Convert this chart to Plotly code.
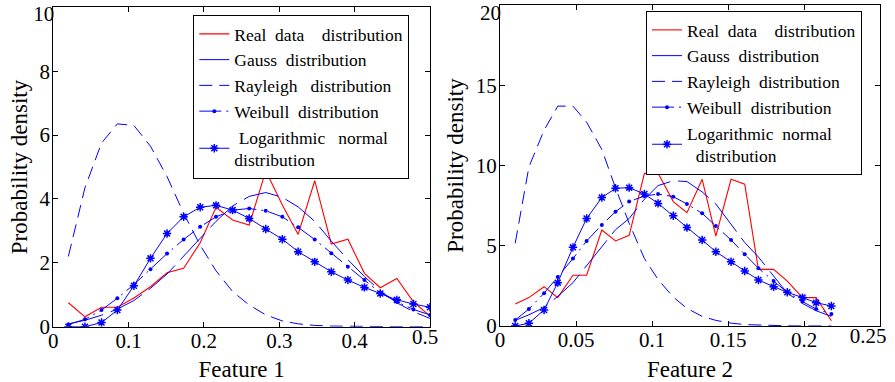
import plotly.graph_objects as go

# ---------------- data: Feature 1 (left panel) ----------------
x1 = [0.020, 0.042, 0.064, 0.085, 0.107, 0.129, 0.151, 0.173, 0.195, 0.216, 0.238, 0.260,
      0.282, 0.304, 0.325, 0.347, 0.369, 0.391, 0.413, 0.434, 0.456, 0.478, 0.500]
real1 = [0.75, 0.31, 0.61, 0.61, 0.90, 1.25, 1.69, 1.83, 2.63, 3.74, 3.34, 3.18,
         4.88, 3.81, 2.89, 4.57, 2.59, 2.74, 1.67, 1.22, 1.51, 0.78, 0.33]
gauss1 = [0.09, 0.20, 0.36, 0.55, 0.82, 1.20, 1.65, 2.20, 2.75, 3.30, 3.78, 4.08,
          4.20, 4.05, 3.75, 3.30, 2.68, 2.10, 1.57, 1.12, 0.75, 0.47, 0.26]
rayl1 = [2.20, 4.35, 5.75, 6.35, 6.30, 5.65, 4.70, 3.55, 2.55, 1.75, 1.10, 0.68,
         0.37, 0.18, 0.09, 0.04, 0.02, 0.01, 0.0, 0.0, 0.0, 0.0, 0.0]
weib1 = [0.07, 0.23, 0.52, 0.89, 1.32, 1.80, 2.29, 2.73, 3.13, 3.44, 3.65, 3.70,
         3.63, 3.44, 3.11, 2.73, 2.30, 1.88, 1.46, 1.06, 0.78, 0.54, 0.37]
logn1 = [0.0, 0.0, 0.13, 0.52, 1.28, 2.14, 2.92, 3.44, 3.74, 3.80, 3.65, 3.39,
         3.06, 2.74, 2.35, 2.03, 1.72, 1.46, 1.23, 1.04, 0.84, 0.71, 0.61]

# ---------------- data: Feature 2 (right panel) ----------------
x2 = [0.010, 0.019, 0.029, 0.038, 0.048, 0.057, 0.067, 0.076, 0.085, 0.095, 0.104, 0.114,
      0.123, 0.133, 0.142, 0.152, 0.161, 0.170, 0.180, 0.189, 0.199, 0.208, 0.218]
real2 = [1.37, 1.77, 2.45, 1.77, 3.16, 3.16, 5.98, 5.30, 5.65, 9.51, 9.51, 7.75,
         7.06, 9.14, 5.60, 9.14, 8.83, 3.53, 3.53, 2.80, 1.77, 1.77, 0.33]
gauss2 = [0.35, 0.70, 1.15, 1.85, 2.70, 3.75, 4.90, 6.00, 6.70, 7.90, 8.75, 9.05,
          9.00, 8.35, 7.60, 6.30, 5.20, 4.30, 3.15, 2.05, 1.40, 0.95, 0.60]
rayl2 = [5.15, 9.90, 12.2, 13.7, 13.7, 12.7, 11.0, 8.60, 6.40, 4.20, 2.90, 1.80,
         1.10, 0.60, 0.35, 0.18, 0.09, 0.05, 0.02, 0.01, 0.0, 0.0, 0.0]
weib2 = [0.37, 1.06, 2.04, 3.05, 4.20, 5.30, 6.30, 7.12, 7.75, 8.10, 8.22, 8.06,
         7.60, 7.02, 6.23, 5.36, 4.47, 3.60, 2.80, 2.10, 1.52, 1.06, 0.75]
logn2 = [0.0, 0.17, 1.00, 2.70, 4.90, 6.70, 8.00, 8.58, 8.62, 8.22, 7.64, 6.87,
         6.13, 5.36, 4.63, 4.00, 3.43, 2.87, 2.45, 2.10, 1.77, 1.45, 1.25]

SP = "&nbsp;"
names = ["Real" + SP * 2 + "data" + SP * 4 + "distribution", "Gauss" + SP * 2 + "distribution",
         "Rayleigh" + SP * 3 + "distribution", "Weibull" + SP * 2 + "distribution",
         SP + "Logarithmic" + SP * 3 + "normal<br>distribution"]
names2 = ["Real" + SP * 2 + "data" + SP * 4 + "distribution", "Gauss" + SP * 2 + "distribution",
          "Rayleigh" + SP * 2 + "distribution", "Weibull" + SP * 2 + "distribution",
          "Logarithmic" + SP * 2 + "normal<br>" + SP * 2 + "distribution"]

# tick values / labels
xticks1 = [0, 0.1, 0.2, 0.3, 0.4, 0.5]
xlabels1 = ["0", "0.1", "0.2", "0.3", "0.4", ""]
yticks1 = [0, 2, 4, 6, 8, 10]
ylabels1 = ["0", "2", "4", "6", "8", ""]
xticks2 = [0, 0.05, 0.1, 0.15, 0.2, 0.25]
xlabels2 = ["0", "0.05", "0.1", "0.15", "0.2", ""]
yticks2 = [0, 5, 10, 15, 20]
ylabels2 = ["0", "5", "10", "15", ""]
# edge labels (drawn nudged inward, as in the original export)
xend1, xend1_lab = [0.5], ["0.5"]
yend1, yend1_lab = [10], ["10"]
xend2, xend2_lab = [0.25], ["0.25"]
yend2, yend2_lab = [20], ["20"]

FONT = "Liberation Serif"
BLUE = "#0000FF"
RED = "#FF0000"

fig = go.Figure()


def add_panel(x, real, gauss, rayl, weib, logn, xa, ya, leg, nm):
    fig.add_trace(go.Scatter(x=x, y=real, mode="lines", name=nm[0], xaxis=xa, yaxis=ya,
                             legend=leg, line=dict(color=RED, width=1.1)))
    fig.add_trace(go.Scatter(x=x, y=gauss, mode="lines", name=nm[1], xaxis=xa, yaxis=ya,
                             legend=leg, line=dict(color=BLUE, width=1, dash="36px,8px")))
    fig.add_trace(go.Scatter(x=x, y=rayl, mode="lines", name=nm[2], xaxis=xa, yaxis=ya,
                             legend=leg, line=dict(color=BLUE, width=1, dash="13px,7px")))
    fig.add_trace(go.Scatter(x=x, y=weib, mode="lines+markers", name=nm[3], xaxis=xa, yaxis=ya,
                             legend=leg, line=dict(color=BLUE, width=1, dash="22px,5px,2px,5px"),
                             marker=dict(symbol="circle", size=4, color=BLUE)))
    fig.add_trace(go.Scatter(x=x, y=logn, mode="lines+markers", name=nm[4], xaxis=xa, yaxis=ya,
                             legend=leg, line=dict(color=BLUE, width=1),
                             marker=dict(symbol="asterisk-open", size=7,
                                         line=dict(color=BLUE, width=1.5))))


add_panel(x1, real1, gauss1, rayl1, weib1, logn1, "x", "y", "legend", names)
add_panel(x2, real2, gauss2, rayl2, weib2, logn2, "x2", "y2", "legend2", names2)


# invisible placeholder traces so the overlay label axes are rendered
def add_anchor(xvals, yvals, xa, ya):
    fig.add_trace(go.Scatter(x=xvals, y=yvals, xaxis=xa, yaxis=ya, mode="markers",
                             marker=dict(opacity=0, size=1), showlegend=False,
                             hoverinfo="skip"))


add_anchor(xend1, yend1, "x3", "y")
add_anchor(xend1, yend1, "x", "y3")
add_anchor(xend2, yend2, "x4", "y2")
add_anchor(xend2, yend2, "x2", "y4")

tickfont = dict(family=FONT, size=21, color="black")
axis_common = dict(showline=True, linecolor="black", linewidth=1, mirror="ticks",
                   ticks="inside", ticklen=5, tickcolor="black", showgrid=False,
                   zeroline=False, ticklabeloverflow="allow", automargin=False,
                   tickfont=tickfont)
overlay_common = dict(showline=False, ticks="", showgrid=False, zeroline=False,
                      ticklabeloverflow="allow", automargin=False, tickfont=tickfont,
                      fixedrange=True)

W, H = 895, 382
title_font = dict(family=FONT, size=23, color="black")
legend_common = dict(xanchor="left", yanchor="top", bgcolor="white", bordercolor="black",
                     borderwidth=1, font=dict(family=FONT, size=17.5, color="black"),
                     tracegroupgap=0, itemwidth=30)
XSO, YSO = -5, -2

fig.update_layout(
    width=W, height=H, margin=dict(l=0, r=0, t=0, b=0, autoexpand=False),
    paper_bgcolor="white", plot_bgcolor="white",
    font=dict(family=FONT, color="black"),
    xaxis=dict(domain=[53.3 / W, 430 / W], range=[0, 0.5], tickvals=xticks1, ticktext=xlabels1,
               anchor="y", ticklabelstandoff=XSO,
               title=dict(text="Feature 1", font=title_font, standoff=10), **axis_common),
    yaxis=dict(domain=[(H - 326.7) / H, (H - 7.3) / H], range=[0, 10], tickvals=yticks1,
               ticktext=ylabels1, anchor="x", ticklabelstandoff=YSO,
               title=dict(text="Probability density", font=title_font, standoff=5),
               **axis_common),
    xaxis2=dict(domain=[500 / W, 880 / W], range=[0, 0.25], tickvals=xticks2, ticktext=xlabels2,
                anchor="y2", ticklabelstandoff=XSO,
                title=dict(text="Feature 2", font=title_font, standoff=10), **axis_common),
    yaxis2=dict(domain=[(H - 326) / H, (H - 5) / H], range=[0, 20], tickvals=yticks2,
                ticktext=ylabels2, anchor="x2", ticklabelstandoff=YSO,
                title=dict(text="Probability density", font=title_font, standoff=5),
                **axis_common),
    # overlay axes carrying the nudged edge labels
    xaxis3=dict(overlaying="x", anchor="y", side="bottom", range=[0, 0.5], tickvals=xend1,
                ticktext=xend1_lab, ticklabelshift=-5, ticklabelstandoff=XSO, **overlay_common),
    yaxis3=dict(overlaying="y", anchor="x", side="left", range=[0, 10], tickvals=yend1,
                ticktext=yend1_lab, ticklabelshift=6, ticklabelstandoff=YSO, **overlay_common),
    xaxis4=dict(overlaying="x2", anchor="y2", side="bottom", range=[0, 0.25], tickvals=xend2,
                ticktext=xend2_lab, ticklabelshift=-12, ticklabelstandoff=XSO, **overlay_common),
    yaxis4=dict(overlaying="y2", anchor="x2", side="left", range=[0, 20], tickvals=yend2,
                ticktext=yend2_lab, ticklabelshift=8, ticklabelstandoff=YSO, **overlay_common),
    legend=dict(x=193.3 / W, y=(H - 15) / H, **legend_common),
    legend2=dict(x=646 / W, y=(H - 11) / H, **legend_common),
)

fig.write_html("out.html")
